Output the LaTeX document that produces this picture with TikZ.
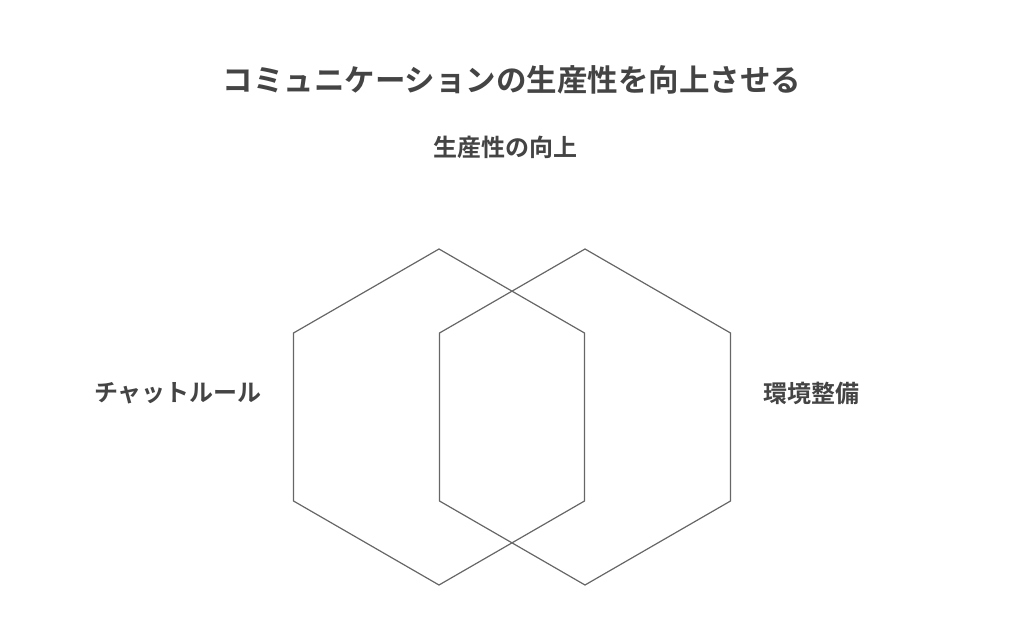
\documentclass[tikz,border=0pt]{standalone}
\usepackage{fontspec}
\setmainfont{Noto Sans CJK JP}[BoldFont={Noto Sans CJK JP Bold}]
\usetikzlibrary{shapes.geometric, positioning}
\definecolor{textgray}{HTML}{444444}
\definecolor{linegray}{HTML}{666666}
\tikzstyle{hexa} = [draw=linegray, line width=1.2pt, regular polygon, regular polygon sides=6, shape border rotate=30, minimum size=336pt, inner sep=0pt, outer sep=0pt]
\tikzstyle{label} = [text=textgray, font=\bfseries\fontsize{24}{24}\selectfont, inner sep=0pt]

\begin{document}
\begin{tikzpicture}[x=1pt, y=-1pt]
	\useasboundingbox (0,0) rectangle (1024,644);
	\node [label, font=\bfseries\fontsize{30.5}{30.5}\selectfont] (title) at (512,80) {コミュニケーションの生産性を向上させる};
	\node [label] (goal) at (505,147) {生産性の向上};
	
	\node [hexa] (chat) at (439,417) {};
	\node [hexa, right=146pt of chat.center, anchor=center] (env) {};
	
	\node [label] (chatlabel) at (178,393) {チャットルール};
	\node [label] (envlabel) at (811,393) {環境整備};
\end{tikzpicture}
\end{document}
